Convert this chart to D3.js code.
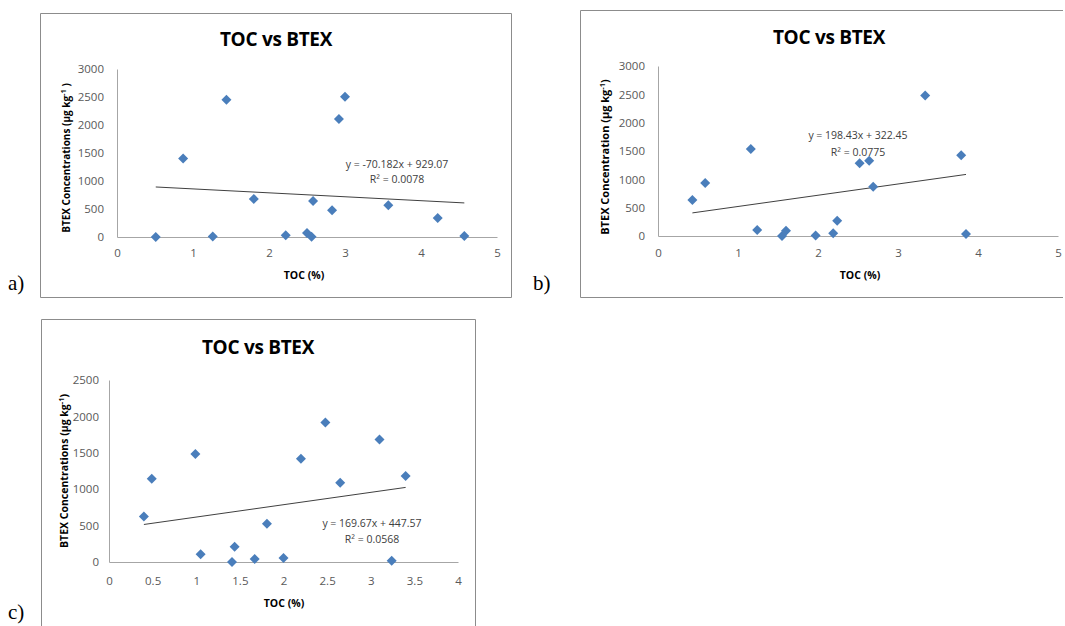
<!DOCTYPE html>
<html>
<head>
<meta charset="utf-8">
<script src="https://cdn.jsdelivr.net/npm/d3@7"></script>
<style>
    body { margin: 0; background: #fff; }
    svg { display: block; font-family: "Open Sans", sans-serif; }
    .tick text { fill: #595959; font-size: 11.5px; }
    .axis path { stroke: #a6a6a6; }
</style>
</head>
<body>
<svg id="svg" width="1065" height="626"></svg>
<script>
// tick values
var xTicksAB = [0, 1, 2, 3, 4, 5];
var yTicksAB = [0, 500, 1000, 1500, 2000, 2500, 3000];
var xTicksC = [0, 0.5, 1, 1.5, 2, 2.5, 3, 3.5, 4];
var yTicksC = [0, 500, 1000, 1500, 2000, 2500];

// a) TOC (%) vs BTEX (ug/kg)
var tocA = [0.51, 0.87, 1.26, 1.44, 1.80, 2.22, 2.50, 2.56, 2.58, 2.83, 2.92, 3.00, 3.57, 4.22, 4.57];
var btexA = [0, 1400, 10, 2450, 680, 30, 70, 5, 645, 477, 2105, 2505, 567, 340, 20];
var trendA = [-70.182, 929.07];
var eqA = ["y = -70.182x + 929.07", "R\u00B2 = 0.0078"];

// b)
var tocB = [0.43, 0.59, 1.16, 1.24, 1.55, 1.60, 1.97, 2.19, 2.24, 2.52, 2.64, 2.69, 3.34, 3.79, 3.85];
var btexB = [635, 935, 1535, 106, 0, 94, 10, 48, 268, 1285, 1329, 870, 2480, 1427, 35];
var trendB = [198.43, 322.45];
var eqB = ["y = 198.43x + 322.45", "R\u00B2 = 0.0775"];

// c)
var tocC = [0.40, 0.49, 0.99, 1.05, 1.41, 1.44, 1.67, 1.81, 2.00, 2.20, 2.48, 2.65, 3.10, 3.24, 3.40];
var btexC = [625, 1145, 1483, 105, 0, 210, 41, 525, 55, 1419, 1916, 1090, 1683, 18, 1181];
var trendC = [169.67, 447.57];
var eqC = ["y = 169.67x + 447.57", "R\u00B2 = 0.0568"];

var svg = d3.select("#svg");

var diamond = "M0,-5L5,0L0,5L-5,0Z";

function drawPanel(p) {
    var g = svg.append("g");

    // chart frame
    g.append("path")
        .attr("d", p.frame)
        .attr("fill", "none")
        .attr("stroke", "#8c8c8c")
        .attr("stroke-width", 1);

    // letter label
    g.append("text")
        .attr("x", p.letter[0]).attr("y", p.letter[1])
        .style("font-family", "'Liberation Serif', serif")
        .style("font-size", "21px")
        .text(p.letterText);

    var xScale = d3.scaleLinear()
        .domain([p.xTicks[0], p.xTicks[p.xTicks.length - 1]])
        .range([p.left, p.right]);
    var yScale = d3.scaleLinear()
        .domain([p.yTicks[0], p.yTicks[p.yTicks.length - 1]])
        .range([p.bottom, p.top]);

    var plain = function(d) { return String(d); };

    g.append("g")
        .attr("class", "axis")
        .attr("transform", "translate(0," + p.bottom + ")")
        .call(d3.axisBottom(xScale).tickValues(p.xTicks).tickSize(0).tickPadding(p.xPad).tickFormat(plain))
        .call(function(s) { s.select(".domain").attr("stroke", "#a6a6a6"); });

    g.append("g")
        .attr("class", "axis")
        .attr("transform", "translate(" + p.left + ",0)")
        .call(d3.axisLeft(yScale).tickValues(p.yTicks).tickSize(0).tickPadding(p.yPad).tickFormat(plain))
        .call(function(s) { s.select(".domain").attr("stroke", "#a6a6a6"); });

    g.selectAll(".tick text").style("font-family", "'Open Sans', sans-serif");

    // title
    g.append("text")
        .attr("x", p.titleX).attr("y", p.titleY)
        .attr("text-anchor", "middle")
        .style("font-weight", "bold")
        .style("font-size", "19px")
        .style("letter-spacing", "-0.3px")
        .text("TOC vs BTEX");

    // axis titles
    g.append("text")
        .attr("x", p.xTitle[0]).attr("y", p.xTitle[1])
        .attr("dy", "0.35em")
        .attr("text-anchor", "middle")
        .style("font-weight", "bold")
        .style("font-size", "10.5px")
        .text("TOC (%)");

    var yt = g.append("text")
        .attr("transform", "translate(" + p.yTitle[0] + "," + p.yTitle[1] + ") rotate(-90)")
        .attr("dy", "0.35em")
        .attr("text-anchor", "middle")
        .style("font-weight", "bold")
        .style("font-size", p.yTitleSize + "px");
    yt.append("tspan").text(p.yTitleText);
    yt.append("tspan").attr("dy", -4).style("font-size", "7.5px").text("-1");
    yt.append("tspan").attr("dy", 4).text(p.yTitleEnd);

    // trend line over the x range of the data
    var ext = d3.extent(p.toc);
    g.append("line")
        .attr("x1", xScale(ext[0])).attr("y1", yScale(p.trend[0] * ext[0] + p.trend[1]))
        .attr("x2", xScale(ext[1])).attr("y2", yScale(p.trend[0] * ext[1] + p.trend[1]))
        .attr("stroke", "#404040")
        .attr("stroke-width", 1);

    // points
    g.selectAll(".pt")
        .data(p.toc.map(function(d, i) { return [d, p.btex[i]]; }))
        .enter().append("path")
        .attr("class", "pt")
        .attr("d", diamond)
        .attr("transform", function(d) { return "translate(" + xScale(d[0]) + "," + yScale(d[1]) + ")"; })
        .attr("fill", "#4a7ebb");

    // equation
    g.selectAll(".eq")
        .data(p.eq)
        .enter().append("text")
        .attr("class", "eq")
        .attr("x", p.eqPos[0])
        .attr("y", function(d, i) { return p.eqPos[1] + i * p.eqGap; })
        .attr("dy", "0.35em")
        .attr("text-anchor", "middle")
        .style("font-size", "10.5px")
        .style("fill", "#404040")
        .text(function(d) { return d; });
}

drawPanel({
    frame: "M40.5,13.5H511.5V297.5H40.5Z",
    letter: [8, 290], letterText: "a)",
    left: 117, right: 497, top: 69, bottom: 237,
    xTicks: xTicksAB, yTicks: yTicksAB, xPad: 12, yPad: 13,
    titleX: 276, titleY: 46,
    xTitle: [304, 275], yTitle: [66, 158], yTitleSize: 10,
    yTitleText: "BTEX Concentrations (\u00B5g kg", yTitleEnd: " )",
    toc: tocA, btex: btexA, trend: trendA,
    eq: eqA, eqPos: [397, 164], eqGap: 15
});

drawPanel({
    frame: "M1063,10.5H580.5V297.5H1063",
    letter: [533, 290], letterText: "b)",
    left: 658, right: 1058, top: 66, bottom: 236,
    xTicks: xTicksAB, yTicks: yTicksAB, xPad: 13, yPad: 13,
    titleX: 829, titleY: 44,
    xTitle: [860, 275], yTitle: [605, 157], yTitleSize: 11,
    yTitleText: "BTEX Concentration (\u00B5g kg", yTitleEnd: ")",
    toc: tocB, btex: btexB, trend: trendB,
    eq: eqB, eqPos: [858, 135], eqGap: 17
});

drawPanel({
    frame: "M41.5,640V319.5H475.5V640",
    letter: [8, 619], letterText: "c)",
    left: 109, right: 458, top: 380, bottom: 562,
    xTicks: xTicksC, yTicks: yTicksC, xPad: 15, yPad: 10,
    titleX: 258, titleY: 354,
    xTitle: [284, 603], yTitle: [64, 471], yTitleSize: 10.5,
    yTitleText: "BTEX Concentrations (\u00B5g kg", yTitleEnd: ")",
    toc: tocC, btex: btexC, trend: trendC,
    eq: eqC, eqPos: [372, 523], eqGap: 16
});
</script>
</body>
</html>
